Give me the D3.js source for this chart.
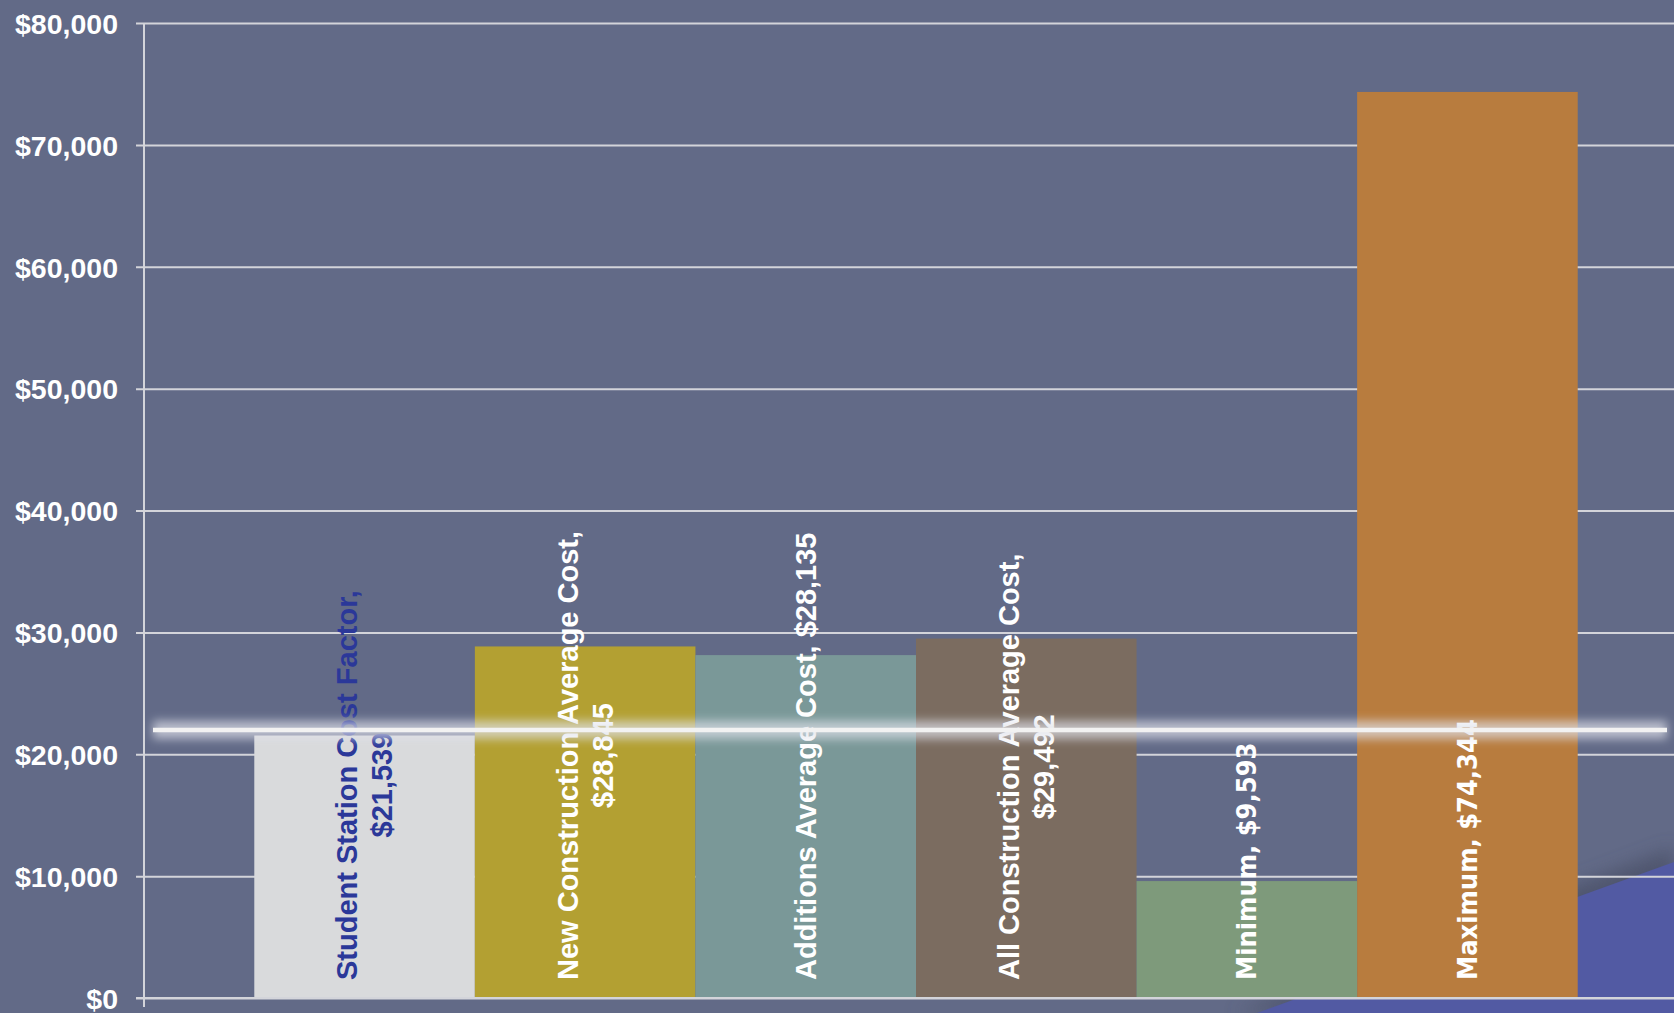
<!DOCTYPE html>
<html>
<head>
<meta charset="utf-8">
<script src="https://cdn.jsdelivr.net/npm/d3@7"></script>
<style>
  html, body { margin: 0; padding: 0; background: #626a87; overflow: hidden; }
  svg { display: block; }
</style>
</head>
<body>
<svg id="chart" width="1674" height="1013"></svg>
<script>
// ---- data ----
const categories = [
  "Student Station Cost Factor,",
  "New Construction Average Cost,",
  "Additions Average Cost,",
  "All Construction Average Cost,",
  "Minimum,",
  "Maximum,"
];
const values = [21539, 28845, 28135, 29492, 9593, 74344];
const valueOnOwnLine = [true, true, false, true, false, false];
const barColors = ["#d9dadc", "#b3a032", "#7a9898", "#7b6c60", "#7e9a7b", "#b87c3e"];
const labelColors = ["#2b3899", "#ffffff", "#ffffff", "#ffffff", "#ffffff", "#ffffff"];
const labelFonts = ["Liberation Sans", "Liberation Sans", "Liberation Sans", "Liberation Sans",
                    "DejaVu Sans Condensed", "DejaVu Sans Condensed"];
const yTicks = [0, 10000, 20000, 30000, 40000, 50000, 60000, 70000, 80000];
const referenceLineValue = 22000;

// ---- layout ----
const W = 1674, H = 1013;
const axisX = 144, yTop = 23, yBottom = 998;
const svg = d3.select("#chart");
const defs = svg.append("defs");

const y = d3.scaleLinear().domain([0, 80000]).range([yBottom, yTop]);
const x = d3.scaleBand().domain(categories).range([axisX, 1688]).paddingInner(0).paddingOuter(0.5);

// background
svg.append("rect").attr("width", W).attr("height", H).attr("fill", "#626a87");

// decorative blue shape bottom-right
const blur = defs.append("filter").attr("id", "shadowBlur")
  .attr("filterUnits", "userSpaceOnUse").attr("x", 1100).attr("y", 780).attr("width", 700).attr("height", 300);
blur.append("feGaussianBlur").attr("stdDeviation", 9);
svg.append("path")
  .attr("d", `M1235,1013 L1674,848 L1674,1013 Z`)
  .attr("fill", "#4a4f66").attr("opacity", 0.75)
  .attr("filter", "url(#shadowBlur)");
svg.append("path")
  .attr("d", `M1257,1013 L1674,862 L1674,1013 Z`)
  .attr("fill", "#525aa3");

// gridlines + y axis
const axisG = svg.append("g").attr("transform", `translate(${axisX},0)`);
axisG.call(d3.axisLeft(y).tickValues(yTicks).tickSize(0).tickPadding(26).tickFormat(d3.format("$,")));
axisG.select(".domain").remove();
axisG.selectAll(".tick text")
  .attr("fill", "#ffffff")
  .style("font-family", "Liberation Sans, Arial, sans-serif")
  .style("font-weight", "bold")
  .style("font-size", "28.5px")
  .attr("dy", "0.36em");
axisG.selectAll(".tick").append("line")
  .attr("x1", -8).attr("x2", W - axisX)
  .attr("y1", 0).attr("y2", 0)
  .attr("stroke", "#d3d4da").attr("stroke-width", 2);
svg.append("line")
  .attr("x1", axisX).attr("x2", axisX)
  .attr("y1", yTop).attr("y2", yBottom + 9)
  .attr("stroke", "#d3d4da").attr("stroke-width", 2);

// bars
svg.append("g").selectAll("rect").data(categories).join("rect")
  .attr("x", d => x(d))
  .attr("width", x.bandwidth())
  .attr("y", (d, i) => y(values[i]))
  .attr("height", (d, i) => y(0) - y(values[i]))
  .attr("fill", (d, i) => barColors[i]);

// x axis baseline redraw over bars
svg.append("line")
  .attr("x1", axisX - 8).attr("x2", W)
  .attr("y1", y(0)).attr("y2", y(0))
  .attr("stroke", "#d3d4da").attr("stroke-width", 2);

// labels
const fmt = d3.format("$,");
const labelBase = 980;
const lineGap = 35;
categories.forEach((cat, i) => {
  const lines = valueOnOwnLine[i] ? [cat, fmt(values[i])] : [cat + " " + fmt(values[i])];
  const isDejaVu = labelFonts[i].startsWith("DejaVu");
  const g = svg.append("g")
    .attr("transform", `translate(${x(cat) + x.bandwidth() / 2},${labelBase}) rotate(-90)`);
  const texts = g.selectAll("text").data(lines).join("text")
    .text(d => d)
    .attr("text-anchor", "middle")
    .attr("dominant-baseline", "central")
    .attr("fill", labelColors[i])
    .style("font-family", `"${labelFonts[i]}", "DejaVu Sans", sans-serif`)
    .style("font-weight", "bold")
    .style("font-size", isDejaVu ? "27px" : "29px")
    .attr("y", (d, k) => (k - (lines.length - 1) / 2) * lineGap);
  let maxLen = 0;
  texts.each(function() { maxLen = Math.max(maxLen, this.getComputedTextLength()); });
  texts.attr("x", maxLen / 2);
});

// glowing reference line
const ry = y(referenceLineValue);
const glow = defs.append("filter").attr("id", "glow")
  .attr("filterUnits", "userSpaceOnUse")
  .attr("x", 100).attr("y", ry - 60).attr("width", 1620).attr("height", 120);
glow.append("feGaussianBlur").attr("stdDeviation", 5);
svg.append("rect")
  .attr("x", 153).attr("width", 1667 - 153)
  .attr("y", ry - 9).attr("height", 18)
  .attr("fill", "#dfe1ea").attr("opacity", 0.7)
  .attr("filter", "url(#glow)");
svg.append("line")
  .attr("x1", 153).attr("x2", 1667).attr("y1", ry).attr("y2", ry)
  .attr("stroke", "#f2f2f2").attr("stroke-width", 4.5);
</script>
</body>
</html>
